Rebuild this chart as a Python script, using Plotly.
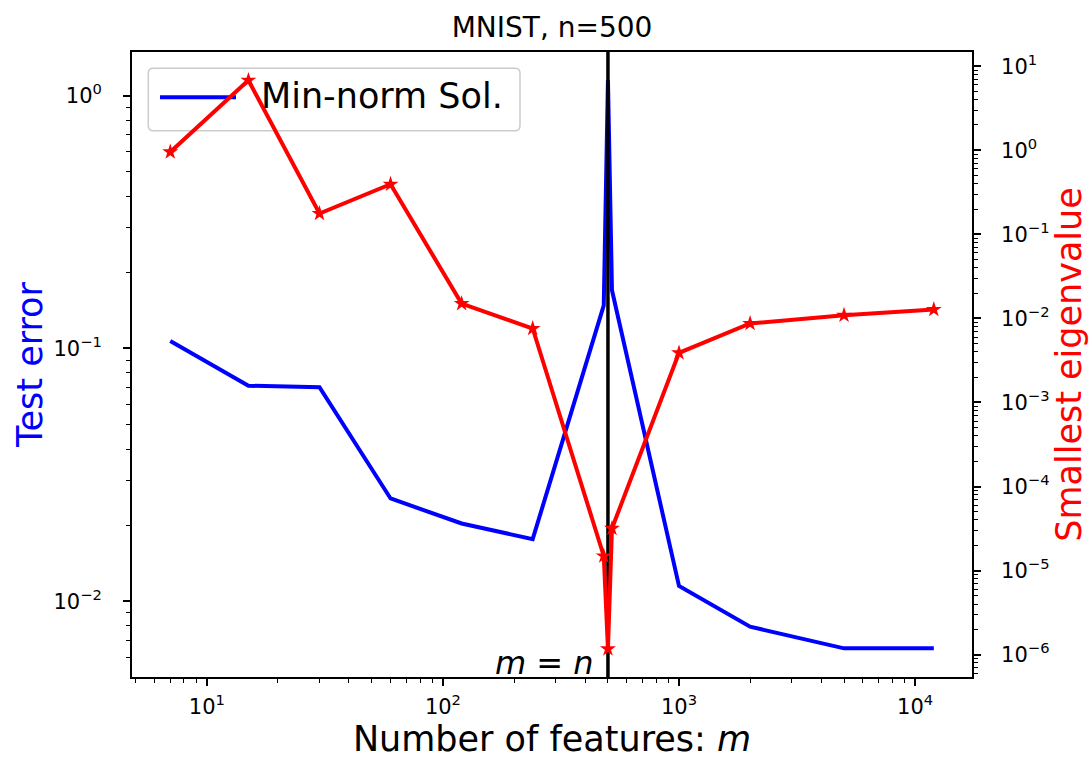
import numpy as np
import plotly.graph_objects as go

# ---- data ----
features = [7, 15, 30, 60, 120, 240, 480, 500, 520, 1000, 2000, 5000, 12000]
test_error = [0.107, 0.0712, 0.0703, 0.0255, 0.0203, 0.0176, 0.148, 1.15,
              0.170, 0.01148, 0.00793, 0.00651, 0.00651]
smallest_eig = [0.955, 6.8, 0.177, 0.394, 0.0150, 0.00758, 1.49e-5, 1.17e-6,
                3.17e-5, 0.00389, 0.00869, 0.0109, 0.01276]
n_samples = 500

x_tick_vals = [1e1, 1e2, 1e3, 1e4]
x_tick_text = ["10<sup>1</sup>", "10<sup>2</sup>", "10<sup>3</sup>", "10<sup>4</sup>"]
y1_tick_vals = [1e-2, 1e-1, 1e0]
y1_tick_text = ["10<sup>\u22122</sup>", "10<sup>\u22121</sup>", "10<sup>0</sup>"]
y2_tick_vals = [1e-6, 1e-5, 1e-4, 1e-3, 1e-2, 1e-1, 1e0, 1e1]
y2_tick_text = ["10<sup>\u22126</sup>", "10<sup>\u22125</sup>", "10<sup>\u22124</sup>",
                "10<sup>\u22123</sup>", "10<sup>\u22122</sup>", "10<sup>\u22121</sup>",
                "10<sup>0</sup>", "10<sup>1</sup>"]
legend_label = "Min-norm Sol."

# axis ranges (log10 units)
X_RANGE = [0.683, 4.241]
Y1_RANGE = [-2.2998, 0.1728]
Y2_RANGE = [-6.266, 1.169]

W, H = 1089, 759
ML, MR, MT, MB = 132, 117, 52, 82
PW, PH = W - ML - MR, H - MT - MB


def px(xp):
    return (xp - ML) / PW


def py(yp):
    return (H - MB - yp) / PH


def minor_vals(lo, hi):
    vals = []
    for e in range(int(np.floor(lo)) - 1, int(np.ceil(hi)) + 1):
        for m in range(2, 10):
            v = m * 10.0 ** e
            if 10 ** lo <= v <= 10 ** hi:
                vals.append(v)
    return vals


FONT = "DejaVu Sans"
BLUE, RED = "#0000ff", "#ff0000"

fig = go.Figure()
fig.add_trace(go.Scatter(x=features, y=test_error, mode="lines", name=legend_label,
                         line=dict(color=BLUE, width=4), yaxis="y", showlegend=False))
fig.add_trace(go.Scatter(x=[n_samples, n_samples], y=[10 ** Y1_RANGE[0], 10 ** Y1_RANGE[1]],
                         mode="lines", line=dict(color="black", width=3.5),
                         showlegend=False, yaxis="y", hoverinfo="skip"))
fig.add_trace(go.Scatter(x=features, y=smallest_eig, mode="lines+markers",
                         name="Smallest eigenvalue",
                         line=dict(color=RED, width=4),
                         marker=dict(symbol="star", size=12, color=RED),
                         showlegend=False, yaxis="y2"))

axis_common = dict(showgrid=False, zeroline=False, showline=True, linecolor="black",
                   linewidth=1.8, ticks="outside", ticklen=7, tickwidth=1.5,
                   tickcolor="black", automargin=False,
                   tickfont=dict(family=FONT, size=21, color="black"))

# legend box (drawn by hand so its sample line matches the reference)
bx0, bx1, by0, by1 = px(148.3), px(520), py(130.7), py(68.3)
rx, ry = 5 / PW, 5 / PH
legend_path = (f"M {bx0+rx},{by0} L {bx1-rx},{by0} Q {bx1},{by0} {bx1},{by0+ry} "
               f"L {bx1},{by1-ry} Q {bx1},{by1} {bx1-rx},{by1} L {bx0+rx},{by1} "
               f"Q {bx0},{by1} {bx0},{by1-ry} L {bx0},{by0+ry} Q {bx0},{by0} {bx0+rx},{by0} Z")

shapes = [
    dict(type="path", path=legend_path, xref="paper", yref="paper", layer="below",
         fillcolor="rgba(255,255,255,0.8)", line=dict(color="#cccccc", width=1.5)),
    dict(type="line", xref="paper", yref="paper", x0=px(160), x1=px(236),
         y0=py(97.3), y1=py(97.3), line=dict(color=BLUE, width=4), layer="below"),
]

annotations = [
    dict(x=px(259), xref="paper", y=py(96), yref="paper", xanchor="left",
         yanchor="middle", text=legend_label, showarrow=False,
         font=dict(family=FONT, size=35, color="black")),
    dict(x=np.log10(n_samples), xref="x", y=0, yref="paper",
         xanchor="right", yanchor="bottom", xshift=-12, yshift=-7,
         text="<i>m</i> = <i>n</i>", showarrow=False,
         font=dict(family=FONT, size=32, color="black")),
]

fig.update_layout(
    width=W, height=H,
    margin=dict(l=ML, r=MR, t=MT, b=MB, autoexpand=False),
    plot_bgcolor="white", paper_bgcolor="white",
    font=dict(family=FONT, color="black"),
    title=dict(text="MNIST, n=500", x=0.5, xref="paper", xanchor="center",
               y=1 - 27 / H, yref="container", yanchor="middle",
               font=dict(family=FONT, size=28, color="black")),
    xaxis=dict(type="log", range=X_RANGE, mirror=True, tickmode="array",
               tickvals=x_tick_vals, ticktext=x_tick_text, ticklabelstandoff=3,
               minor=dict(tickmode="array", tickvals=minor_vals(*X_RANGE), ticks="outside",
                          ticklen=4, tickwidth=1.2, tickcolor="black"),
               title=dict(text="Number of features: <i>m</i>",
                          font=dict(family=FONT, size=35, color="black"), standoff=16),
               **axis_common),
    yaxis=dict(type="log", range=Y1_RANGE, mirror=True, tickmode="array",
               tickvals=y1_tick_vals, ticktext=y1_tick_text, ticklabelstandoff=17,
               minor=dict(tickmode="array", tickvals=minor_vals(*Y1_RANGE), ticks="outside",
                          ticklen=4, tickwidth=1.2, tickcolor="black"),
               title=dict(text="Test error", font=dict(family=FONT, size=35, color=BLUE),
                          standoff=0),
               **axis_common),
    yaxis2=dict(type="log", range=Y2_RANGE, overlaying="y", side="right", tickmode="array",
                tickvals=y2_tick_vals, ticktext=y2_tick_text, ticklabelstandoff=16,
                minor=dict(tickmode="array", tickvals=minor_vals(*Y2_RANGE), ticks="outside",
                           ticklen=4, tickwidth=1.2, tickcolor="black"),
                title=dict(text="Smallest eigenvalue",
                           font=dict(family=FONT, size=35, color=RED), standoff=4),
                **axis_common),
    showlegend=False,
    shapes=shapes,
    annotations=annotations,
)

# remove the browser's default 8px page margin so the figure sits at the window origin
fig.write_html("out.html", config={"displayModeBar": False},
               post_script="document.body.style.margin='0px';")
